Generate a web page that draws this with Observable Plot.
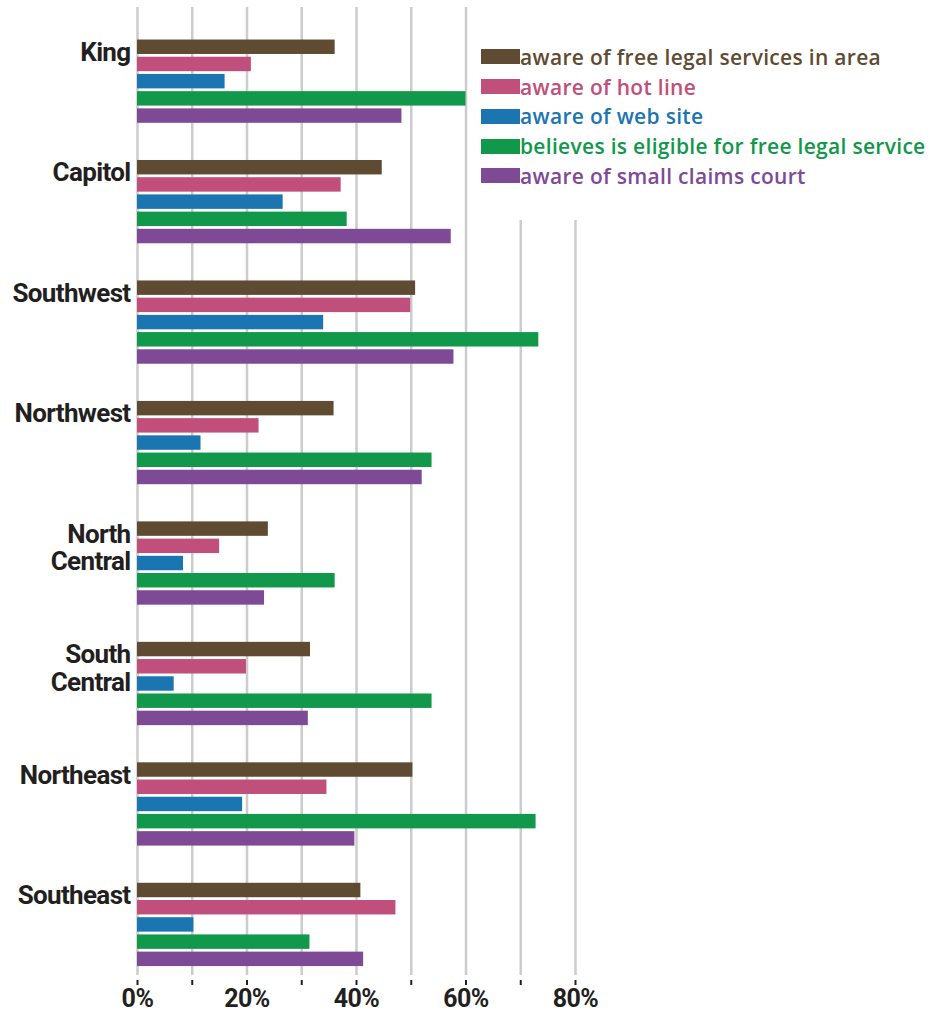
<!DOCTYPE html>
<html><head><meta charset="utf-8">
<script src="https://cdn.jsdelivr.net/npm/d3@7"></script>
<script src="https://cdn.jsdelivr.net/npm/@observablehq/plot@0.6"></script>
<style>
body{margin:0;background:#fff;}
#wrap{position:relative;width:948px;height:1021px;overflow:hidden;}
#legend{position:absolute;left:470px;top:0;width:478px;height:220px;background:#fff;padding-left:11px;padding-top:42px;box-sizing:border-box;}
.row{display:flex;align-items:center;height:29.75px;font-family:"Open Sans";font-weight:600;font-size:21px;white-space:nowrap;letter-spacing:0.3px;}
.sw{width:39px;height:15px;flex:none;}
g[aria-label="text"] text{letter-spacing:-0.65px;}
g[aria-label="x-axis tick label"] text{letter-spacing:-0.5px;}
</style></head>
<body><div id="wrap"><div id="chart"></div><div id="legend"></div></div>
<script>
const regions = ["King","Capitol","Southwest","Northwest","North Central","South Central","Northeast","Southeast"];
const regionLabels = ["King","Capitol","Southwest","Northwest","North\nCentral","South\nCentral","Northeast","Southeast"];
const series = ["aware of free legal services in area","aware of hot line","aware of web site","believes is eligible for free legal service","aware of small claims court"];
const colors = ["#5f4b32","#c04f7b","#1b75b1","#11984b","#7e4a96"];
const freeLegal   = [36.1,44.7,50.8,35.9,23.9,31.6,50.3,40.8];
const hotLine     = [20.8,37.2,49.9,22.2,15.0,19.9,34.6,47.2];
const webSite     = [16.0,26.6,34.0,11.6,8.4,6.7,19.2,10.3];
const eligible    = [60.0,38.3,73.3,53.8,36.1,53.8,72.8,31.5];
const smallClaims = [48.3,57.3,57.8,52.0,23.2,31.2,39.7,41.3];
const xTicks = [0,10,20,30,40,50,60,70,80];

const valuesBySeries = [freeLegal, hotLine, webSite, eligible, smallClaims];
const data = regions.flatMap((r, i) => series.map((s, j) => ({region: r, series: s, value: valuesBySeries[j][i]})));
const yDomain = regions.flatMap((r, i) => [...series.map(s => r + "|" + s), ...(i < regions.length - 1 ? [r + "|gap1", r + "|gap2"] : [])]);

const chart = Plot.plot({
  width: 948, height: 1021,
  marginLeft: 137, marginRight: 373, marginTop: 7, marginBottom: 41,
  style: {fontFamily: "Roboto", background: "#fff"},
  x: {domain: [0, 80], axis: null, label: null},
  y: {type: "band", domain: yDomain, paddingInner: 0.161, paddingOuter: 1.35, align: 0.7, round: false, axis: null},
  color: {domain: series, range: colors},
  marks: [
    Plot.ruleX(xTicks, {stroke: "#cccccc", strokeWidth: 2.5, insetBottom: 5}),
    Plot.barX(data, {x: "value", y: d => d.region + "|" + d.series, fill: "series"}),
    Plot.axisX({ticks: xTicks, tickSize: 5, tickPadding: 4, strokeWidth: 2, color: "#231f20", label: null,
      tickFormat: d => d % 20 === 0 ? d + "%" : "", fontSize: 25, fontWeight: "bold"}),
    Plot.text(regions, {y: r => r + "|" + series[0], text: (r, i) => regionLabels[i],
      frameAnchor: "left", textAnchor: "end", lineAnchor: "top", dx: -7, dy: -6,
      fontSize: 26, fontWeight: "bold", fill: "#231f20", lineHeight: 1.06})
  ]
});
document.getElementById("chart").appendChild(chart);

const legend = d3.select("#legend");
series.forEach((s, j) => {
  const row = legend.append("div").attr("class", "row").style("color", colors[j]);
  row.append("span").attr("class", "sw").style("background", colors[j]);
  row.append("span").text(s);
});
</script>
</body></html>
